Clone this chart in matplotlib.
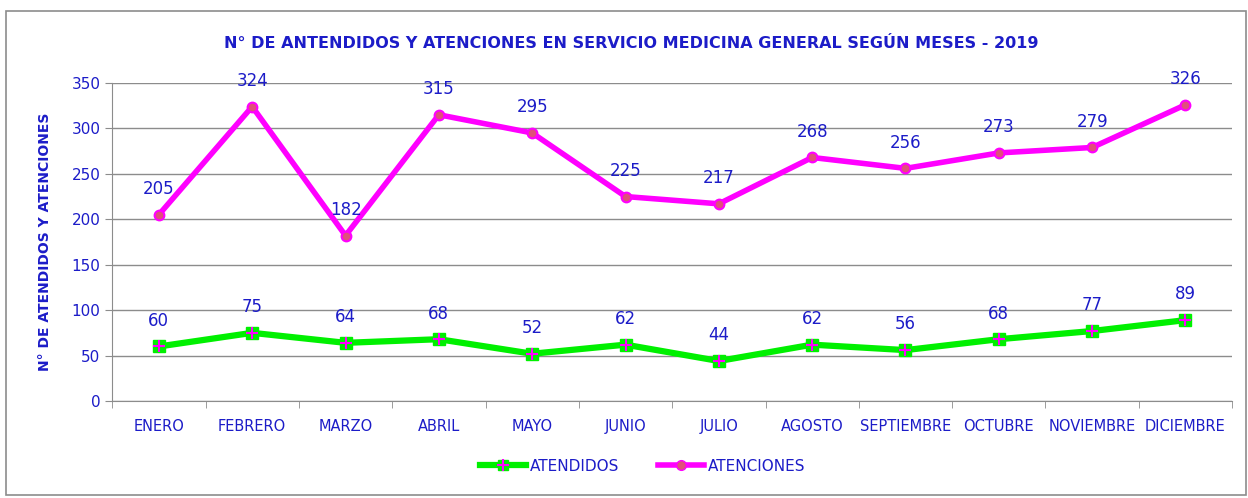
import matplotlib
matplotlib.use('Agg')
import matplotlib.pyplot as plt
from matplotlib.patches import Rectangle
from matplotlib.lines import Line2D

meses = ['ENERO', 'FEBRERO', 'MARZO', 'ABRIL', 'MAYO', 'JUNIO', 'JULIO',
         'AGOSTO', 'SEPTIEMBRE', 'OCTUBRE', 'NOVIEMBRE', 'DICIEMBRE']
atendidos = [60, 75, 64, 68, 52, 62, 44, 62, 56, 68, 77, 89]
atenciones = [205, 324, 182, 315, 295, 225, 217, 268, 256, 273, 279, 326]

azul = '#1C1CC8'
verde = '#00F000'
magenta = '#FF00FF'

fig = plt.figure(figsize=(12.48, 4.98), dpi=100)
fig.patch.set_facecolor('white')

# marco del grafico
fig.add_artist(Rectangle((0.005, 0.006), 0.993, 0.972, transform=fig.transFigure,
                         fill=False, edgecolor='#8c8c8c', linewidth=1.2))

ax = fig.add_axes([0.0899, 0.1948, 0.8974, 0.6386])
x = list(range(len(meses)))

# Atendidos: linea verde con marcador cuadrado y cruz magenta
ax.plot(x, atendidos, color=verde, linewidth=4.5, marker='s', markersize=8,
        markerfacecolor=verde, markeredgecolor=verde, zorder=3)
ax.plot(x, atendidos, linestyle='none', marker='+', markersize=9,
        markeredgecolor=magenta, markeredgewidth=1.5, zorder=4)
# Atenciones: linea magenta con marcador circular
ax.plot(x, atenciones, color=magenta, linewidth=4, marker='o', markersize=7,
        markerfacecolor='#E0507A', markeredgecolor=magenta, markeredgewidth=1.5,
        zorder=3)

for i, v in enumerate(atendidos):
    ax.annotate(str(v), (i, v), textcoords='offset points', xytext=(0, 12),
                ha='center', va='bottom', color=azul, fontsize=12)
for i, v in enumerate(atenciones):
    ax.annotate(str(v), (i, v), textcoords='offset points', xytext=(0, 12),
                ha='center', va='bottom', color=azul, fontsize=12)

ax.set_xlim(-0.5, len(meses) - 0.5)
ax.set_ylim(0, 350)
ax.set_yticks(range(0, 351, 50))
ax.set_xticks(x)
ax.set_xticklabels(meses, color=azul, fontsize=10.5)
ax.set_xticks([i - 0.5 for i in range(len(meses) + 1)], minor=True)
ax.tick_params(axis='x', which='major', length=0, pad=13)
ax.tick_params(axis='x', which='minor', length=5, color='#8c8c8c', direction='out')
ax.tick_params(axis='y', length=5, color='#8c8c8c', labelcolor=azul, labelsize=11)

ax.yaxis.grid(True, color='#8c8c8c', linewidth=1)
ax.set_axisbelow(True)
for s in ['top', 'right']:
    ax.spines[s].set_visible(False)
ax.spines['left'].set_color('#8c8c8c')
ax.spines['bottom'].set_color('#8c8c8c')

ax.set_ylabel('N° DE ATENDIDOS Y ATENCIONES', color=azul, fontsize=10,
              fontweight='bold', labelpad=14)

fig.text(0.506, 0.913, 'N° DE ANTENDIDOS Y ATENCIONES EN SERVICIO MEDICINA GENERAL SEGÚN MESES - 2019',
         ha='center', va='center', color=azul, fontsize=11.5, fontweight='bold')

# leyenda
h1 = Line2D([0], [0], color=verde, linewidth=4.5, marker='s', markersize=7,
            markerfacecolor=verde, markeredgecolor=verde)
h1b = Line2D([0], [0], linestyle='none', marker='+', markersize=8,
             markeredgecolor=magenta, markeredgewidth=1.5)
h2 = Line2D([0], [0], color=magenta, linewidth=4, marker='o', markersize=7,
            markerfacecolor='#E0507A', markeredgecolor=magenta)
leg = fig.legend([(h1, h1b), h2], ['ATENDIDOS', 'ATENCIONES'], loc='center',
                 bbox_to_anchor=(0.515, 0.064), ncol=2, frameon=False,
                 fontsize=11, handlelength=3, columnspacing=2.5, handletextpad=0.3)
for t in leg.get_texts():
    t.set_color(azul)

fig.savefig('out.png', dpi=100)
